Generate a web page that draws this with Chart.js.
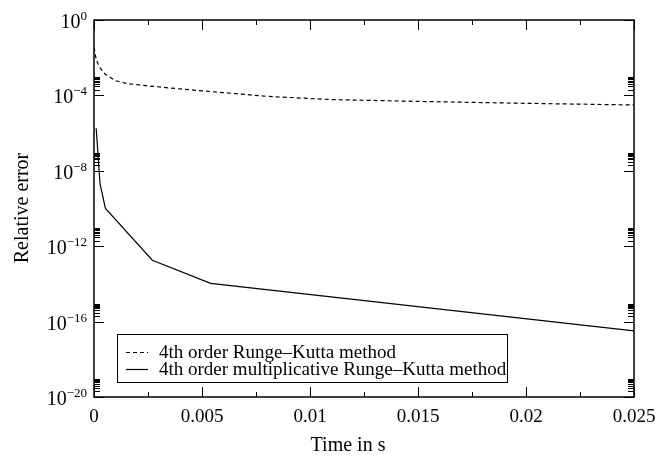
<!DOCTYPE html>
<html>
<head>
<meta charset="utf-8">
<script src="https://cdn.jsdelivr.net/npm/chart.js@4/dist/chart.umd.min.js"></script>
<style>
  body { margin: 0; background: #fff; }
</style>
</head>
<body>
<canvas id="errorChart" width="656" height="457"></canvas>
<script>
// time (s) and relative error
const rkTime = [0, 0.0001, 0.00025, 0.0005, 0.001, 0.0015, 0.0025, 0.004, 0.006, 0.008, 0.011, 0.015, 0.02, 0.025];
const rkError = [3.5e-2, 8e-3, 3.2e-3, 1.4e-3, 6e-4, 4.3e-4, 3.2e-4, 2.2e-4, 1.4e-4, 8.9e-5, 6e-5, 4.8e-5, 3.8e-5, 3.1e-5];
const mrkTime = [0.0001, 0.00028, 0.00053, 0.0027, 0.0054, 0.025];
const mrkError = [1.8e-6, 2e-9, 1e-10, 1.8e-13, 1.07e-14, 3.2e-17];

const seriesNames = ["4th order Runge\u2013Kutta method", "4th order multiplicative Runge\u2013Kutta method"];
const xTicks = [0, 0.005, 0.01, 0.015, 0.02, 0.025];
const yExponents = [0, -4, -8, -12, -16, -20];

const serif = '"Liberation Serif", "Times New Roman", serif';

// make {x, y} points for the scatter lines
const toPoints = (xs, ys) => xs.map((x, i) => ({ x: x, y: ys[i] }));

// frame, inward ticks, labels and the boxed legend
const framePlugin = {
  id: "frame",
  afterDraw(chart) {
    const ctx = chart.ctx;
    const area = chart.chartArea;
    const xs = chart.scales.x;
    const ys = chart.scales.y;
    ctx.save();
    ctx.strokeStyle = "#000";
    ctx.fillStyle = "#000";

    // ticks on all four sides
    ctx.lineWidth = 1;
    ctx.beginPath();
    for (let v = 0; v <= 0.025 + 1e-9; v += 0.0025) {
      const px = Math.round(xs.getPixelForValue(v)) + 0.5;
      const major = Math.abs(v / 0.005 - Math.round(v / 0.005)) < 1e-6;
      const len = major ? 10 : 5;
      ctx.moveTo(px, area.bottom); ctx.lineTo(px, area.bottom - len);
      ctx.moveTo(px, area.top); ctx.lineTo(px, area.top + len);
    }
    yExponents.forEach((e) => {
      const py = Math.round(ys.getPixelForValue(Math.pow(10, e))) + 0.5;
      ctx.moveTo(area.left, py); ctx.lineTo(area.left + 10, py);
      ctx.moveTo(area.right, py); ctx.lineTo(area.right - 10, py);
      if (e < 0) {
        for (let m = 2; m <= 9; m++) {
          const my = Math.round(ys.getPixelForValue(m * Math.pow(10, e))) + 0.5;
          ctx.moveTo(area.left, my); ctx.lineTo(area.left + 6, my);
          ctx.moveTo(area.right, my); ctx.lineTo(area.right - 6, my);
        }
      }
    });
    ctx.stroke();

    // plot frame
    ctx.lineWidth = 1.5;
    ctx.strokeRect(area.left, area.top, area.right - area.left, area.bottom - area.top);

    // x tick labels
    ctx.font = "19px " + serif;
    ctx.textAlign = "center";
    ctx.textBaseline = "alphabetic";
    xTicks.forEach((v) => {
      ctx.fillText(String(+v.toFixed(4)), xs.getPixelForValue(v), 422);
    });

    // y tick labels as 10 with a raised exponent
    yExponents.forEach((e) => {
      const py = ys.getPixelForValue(Math.pow(10, e));
      const expText = e === 0 ? "0" : "\u2212" + String(-e);
      ctx.font = "20px " + serif;
      const baseW = ctx.measureText("10").width;
      ctx.font = "13px " + serif;
      const expW = ctx.measureText(expText).width;
      const x0 = 87 - baseW - expW;
      ctx.textAlign = "left";
      ctx.font = "20px " + serif;
      ctx.fillText("10", x0, py + 8);
      ctx.font = "13px " + serif;
      ctx.fillText(expText, x0 + baseW, py);
    });

    // axis titles
    ctx.font = "20px " + serif;
    ctx.textAlign = "center";
    ctx.fillText("Time in s", 348, 451);
    ctx.save();
    ctx.translate(28, 208);
    ctx.rotate(-Math.PI / 2);
    ctx.fillText("Relative error", 0, 0);
    ctx.restore();

    // legend box
    ctx.lineWidth = 1;
    ctx.fillStyle = "#fff";
    ctx.fillRect(117.5, 334.5, 390, 48);
    ctx.strokeRect(117.5, 334.5, 390, 48);
    ctx.fillStyle = "#000";
    const rows = [352, 369];
    chart.data.datasets.forEach((ds, i) => {
      ctx.lineWidth = 1.2;
      ctx.setLineDash(ds.borderDash || []);
      ctx.beginPath();
      ctx.moveTo(126, rows[i] + 0.5);
      ctx.lineTo(148, rows[i] + 0.5);
      ctx.stroke();
      ctx.setLineDash([]);
      ctx.font = "19px " + serif;
      ctx.textAlign = "left";
      ctx.fillText(ds.label, 159, rows[i] + 6);
    });
    ctx.restore();
  }
};

new Chart(document.getElementById("errorChart"), {
  type: "scatter",
  data: {
    datasets: [
      {
        label: seriesNames[0],
        data: toPoints(rkTime, rkError),
        showLine: true,
        borderColor: "#000",
        borderWidth: 1.2,
        borderDash: [4, 3],
        pointRadius: 0,
        tension: 0
      },
      {
        label: seriesNames[1],
        data: toPoints(mrkTime, mrkError),
        showLine: true,
        borderColor: "#000",
        borderWidth: 1.2,
        pointRadius: 0,
        tension: 0
      }
    ]
  },
  options: {
    responsive: false,
    animation: false,
    layout: { padding: { top: 20, right: 22, left: 0, bottom: 0 } },
    plugins: {
      legend: { display: false },
      tooltip: { enabled: false }
    },
    scales: {
      x: {
        type: "linear",
        min: 0,
        max: 0.025,
        ticks: { display: false },
        grid: { display: false },
        border: { display: false },
        afterFit: (scale) => { scale.height = 60; }
      },
      y: {
        type: "logarithmic",
        min: 1e-20,
        max: 1,
        ticks: { display: false },
        grid: { display: false },
        border: { display: false },
        afterFit: (scale) => { scale.width = 94; }
      }
    }
  },
  plugins: [framePlugin]
});
</script>
</body>
</html>
